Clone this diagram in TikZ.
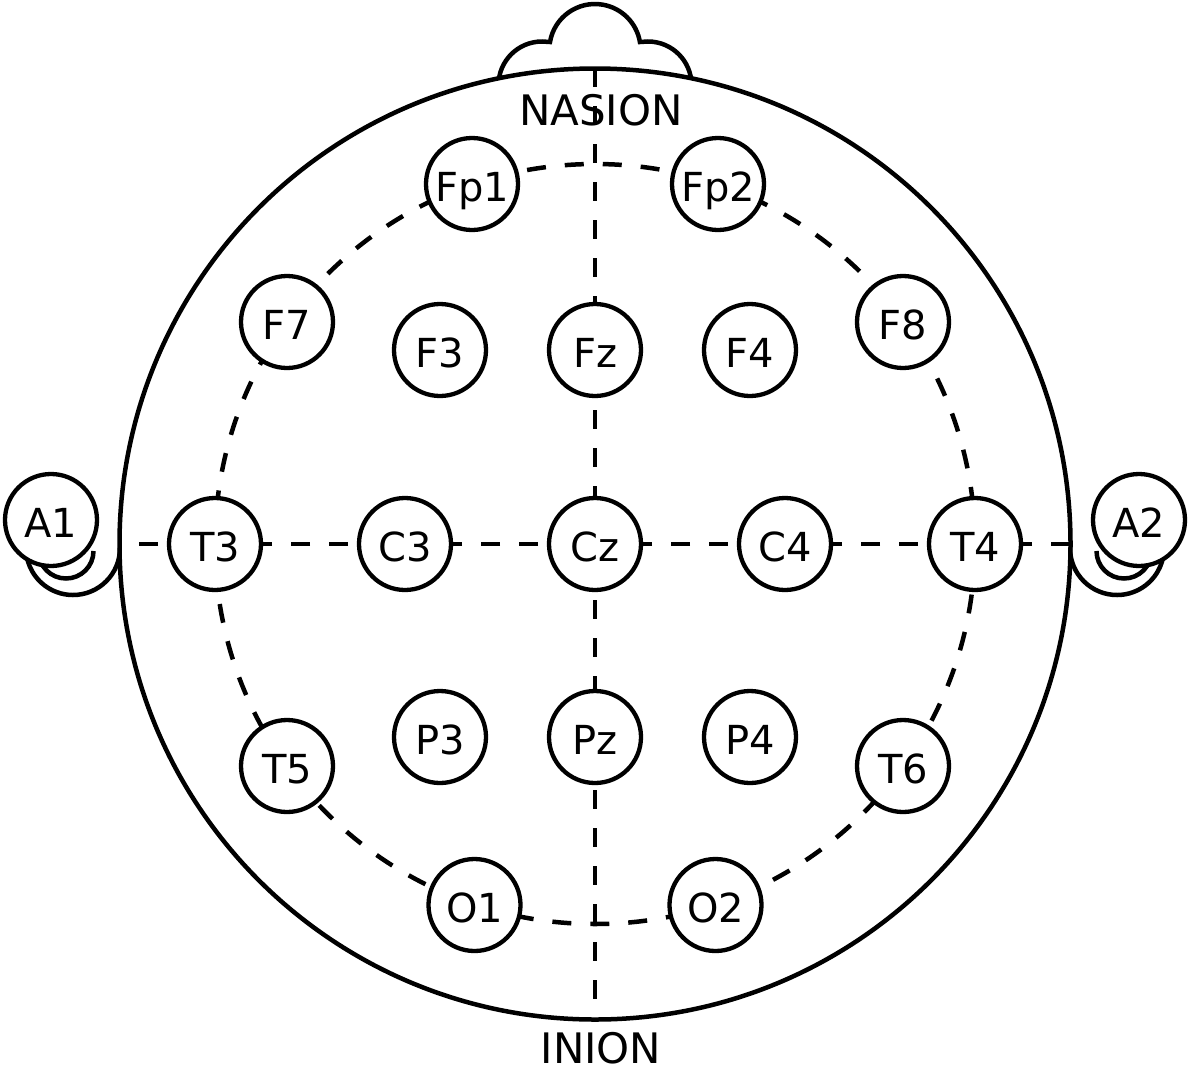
\documentclass[tikz,border=0pt]{standalone}
\usepackage{fontspec}
\setmainfont{DejaVu Sans}
\begin{document}
\begin{tikzpicture}[x=1pt,y=1pt,yscale=-1,
  line width=4.5pt,
  elec/.style={circle, draw, fill=white, line width=4.3pt, minimum size=92pt,
    inner sep=0pt, font=\fontsize{40pt}{48pt}\selectfont,
    text height=35pt, text depth=0pt},
  guide/.style={line width=4.5pt, dash pattern=on 19pt off 19pt},
  landmark/.style={font=\fontsize{42pt}{50pt}\selectfont, anchor=base, inner sep=0pt}
]
\useasboundingbox (0,0) rectangle (1189,1066);

% named reference points of the head
\coordinate (headc) at (595,544);
\coordinate (top) at (595,68);
\coordinate (bottom) at (595,1020);
\coordinate (left) at (120,544);
\coordinate (right) at (1070,544);

% nose
\draw (498.5,85) arc[start angle=180, end angle=270, radius=43.5pt]
  -- (550,42) arc[start angle=189.6, end angle=350.4, radius=45.6pt]
  -- (648,41.5) arc[start angle=270, end angle=360, radius=43.5pt];

% ears
\draw (120,548) arc[start angle=0, end angle=200, radius=47pt];
\draw (1070,548) arc[start angle=180, end angle=-20, radius=47pt];
\draw (93.5,551) arc[start angle=0, end angle=180, radius=27.5pt];
\draw (1096.5,551) arc[start angle=180, end angle=0, radius=27.5pt];

% head
\draw[fill=white] (headc) circle[radius=475.5pt];

% guide lines
\draw[guide] (top) -- (bottom);
\draw[guide] (right) -- (left);
\draw[guide, dash phase=25.3pt] (headc) circle[radius=380pt];

% landmarks
\node[landmark] (nasion) at (601,125) {NASION};
\node[landmark] (inion) at (601,1063) {INION};

% electrodes
\node[elec] (Fp1) at (472,184) {Fp1};
\node[elec] (Fp2) at (718,184) {Fp2};
\node[elec] (F7) at (287,322) {F7};
\node[elec] (F3) at (440,350) {F3};
\node[elec] (Fz) at (595,350) {Fz};
\node[elec] (F4) at (750,350) {F4};
\node[elec] (F8) at (903,322) {F8};
\node[elec] (A1) at (51,520) {A1};
\node[elec] (T3) at (215,544) {T3};
\node[elec] (C3) at (405,544) {C3};
\node[elec] (Cz) at (595,544) {Cz};
\node[elec] (C4) at (785,544) {C4};
\node[elec] (T4) at (975,544) {T4};
\node[elec] (A2) at (1139,520) {A2};
\node[elec] (T5) at (287,766) {T5};
\node[elec] (P3) at (440,737) {P3};
\node[elec] (Pz) at (595,737) {Pz};
\node[elec] (P4) at (750,737) {P4};
\node[elec] (T6) at (903,766) {T6};
\node[elec] (O1) at (474.5,905) {O1};
\node[elec] (O2) at (715.5,905) {O2};
\end{tikzpicture}
\end{document}
